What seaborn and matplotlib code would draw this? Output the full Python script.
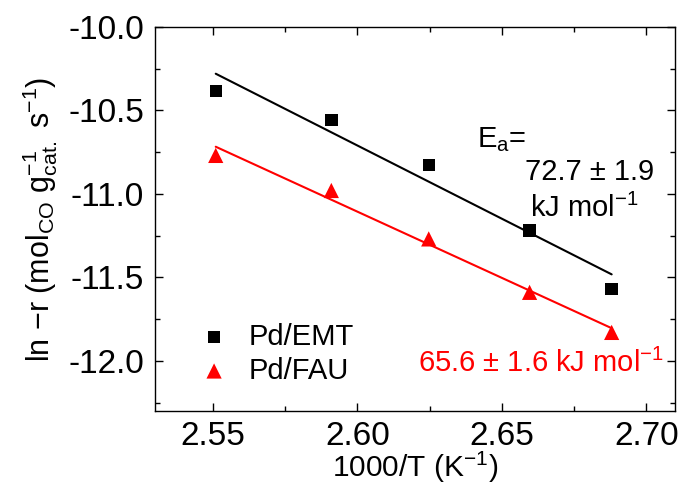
import matplotlib
matplotlib.use("Agg")
import matplotlib.pyplot as plt
from matplotlib.ticker import MultipleLocator, FormatStrFormatter
import seaborn as sns
import pandas as pd

# 1000/T values and ln(-r) for each catalyst
inv_t = [2.551, 2.591, 2.6247, 2.6596, 2.688]
ln_r_emt = [-10.383, -10.557, -10.826, -11.22, -11.569]
ln_r_fau = [-10.77, -10.98, -11.27, -11.59, -11.83]

df = pd.DataFrame({"inv_t": inv_t, "emt": ln_r_emt, "fau": ln_r_fau})

sns.set_style("ticks")
plt.rcParams["font.family"] = ["Liberation Sans", "DejaVu Sans"]
plt.rcParams["mathtext.fontset"] = "custom"
plt.rcParams["mathtext.rm"] = "Liberation Sans"
plt.rcParams["mathtext.it"] = "Liberation Sans:italic"
plt.rcParams["mathtext.default"] = "regular"
plt.rcParams["axes.unicode_minus"] = False
for k in ["text.color", "axes.labelcolor", "xtick.color", "ytick.color", "axes.edgecolor"]:
    plt.rcParams[k] = "black"

fig = plt.figure(figsize=(6.8, 4.88), dpi=100)
ax = fig.add_axes([0.228, 0.158, 0.765, 0.787])

sns.regplot(data=df, x="inv_t", y="emt", ax=ax, ci=None, color="black",
            marker="s", scatter_kws={"s": 80, "edgecolor": "none", "alpha": 1, "zorder": 3},
            line_kws={"lw": 1.5})
sns.regplot(data=df, x="inv_t", y="fau", ax=ax, ci=None, color="#ff0000",
            marker="^", scatter_kws={"s": 120, "edgecolor": "none", "alpha": 1, "zorder": 3},
            line_kws={"lw": 1.5})

ax.set_xlim(2.53, 2.71)
ax.set_ylim(-12.3, -10.0)
ax.xaxis.set_major_locator(MultipleLocator(0.05))
ax.xaxis.set_minor_locator(MultipleLocator(0.025))
ax.yaxis.set_major_locator(MultipleLocator(0.5))
ax.yaxis.set_minor_locator(MultipleLocator(0.25))
ax.xaxis.set_major_formatter(FormatStrFormatter("%.2f"))
ax.yaxis.set_major_formatter(FormatStrFormatter("%.1f"))
ax.tick_params(which="both", direction="in", top=True, right=True, width=1)
ax.tick_params(which="major", length=6, labelsize=24, pad=8)
ax.tick_params(axis="x", which="major", pad=7)
ax.tick_params(which="minor", length=3.5)
for s in ax.spines.values():
    s.set_linewidth(1)

ax.set_xlabel("1000/T (K$^{-1}$)", fontsize=21.5, labelpad=-1)
ax.set_ylabel("ln \u2212r (mol$_{CO}$ g$_{cat.}^{-1}$ s$^{-1}$)", fontsize=22, labelpad=6)

ax.text(2.6415, -10.719, "E$_a$=", fontsize=21, ha="left", va="baseline")
ax.text(2.658, -10.916, "72.7 \u00b1 1.9", fontsize=21, ha="left", va="baseline")
ax.text(2.6598, -11.138, "kJ mol$^{-1}$", fontsize=21, ha="left", va="baseline")
ax.text(2.621, -12.066, "65.6 \u00b1 1.6 kJ mol$^{-1}$", fontsize=21, ha="left",
        va="baseline", color="#ff0000")

handles = ax.collections[:2]
ax.legend(handles=handles, labels=["Pd/EMT", "Pd/FAU"], loc="lower left",
          bbox_to_anchor=(0.035, 0.0), frameon=False, fontsize=21,
          handletextpad=0.7, labelspacing=0.2, handlelength=1.0)

sns.despine(ax=ax, top=False, right=False)
fig.savefig("out.png", dpi=100)
